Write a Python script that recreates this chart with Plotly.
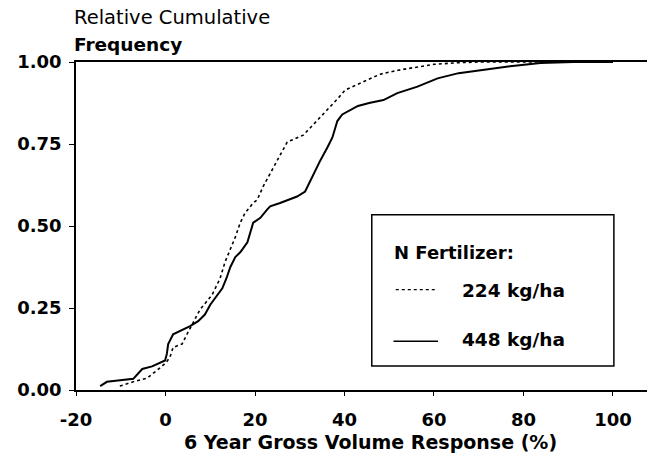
import plotly.graph_objects as go

# 448 kg/ha (solid)
x448 = [-14.6, -13.1, -7.2, -6.2, -5.2, -3.0, -1.2, -0.1, 0.3, 0.6, 1.7, 3.3, 5.5, 7.3,
        8.8, 10.0, 11.5, 12.7, 13.6, 14.5, 15.6, 16.7, 17.5, 18.3, 19.6, 21.2, 22.7, 23.4,
        25.6, 27.5, 29.4, 31.2, 32.8, 34.6, 36.2, 37.3, 38.4, 39.5, 43.0, 45.5, 48.7, 51.8,
        56.3, 60.8, 65.5, 71.0, 77.0, 83.8, 91.2, 100.0]
y448 = [0.012, 0.025, 0.034, 0.05, 0.064, 0.072, 0.082, 0.09, 0.11, 0.14, 0.17, 0.18, 0.195, 0.21,
        0.23, 0.26, 0.29, 0.31, 0.34, 0.375, 0.405, 0.42, 0.435, 0.45, 0.51, 0.525, 0.55, 0.56,
        0.57, 0.58, 0.59, 0.605, 0.65, 0.70, 0.74, 0.77, 0.82, 0.84, 0.866, 0.875, 0.884, 0.905,
        0.925, 0.95, 0.966, 0.976, 0.987, 0.997, 1.0, 1.0]

# 224 kg/ha (dotted)
x224 = [-10.2, -7.2, -4.1, -2.3, -1.0, 0.2, 1.0, 1.7, 3.7, 4.8, 6.0, 7.1, 7.7, 10.4, 12.2,
        13.3, 14.5, 15.6, 16.7, 17.8, 19.6, 20.5, 21.8, 24.1, 26.1, 27.2, 30.8, 33.0, 36.2,
        38.6, 40.2, 45.1, 48.0, 52.0, 56.3, 60.0, 65.5, 70.0, 80.0, 90.0]
y224 = [0.012, 0.025, 0.036, 0.055, 0.07, 0.085, 0.10, 0.13, 0.14, 0.17, 0.20, 0.23, 0.245, 0.29, 0.34,
        0.39, 0.43, 0.466, 0.51, 0.54, 0.57, 0.58, 0.62, 0.68, 0.73, 0.756, 0.777, 0.81, 0.855,
        0.89, 0.915, 0.945, 0.963, 0.975, 0.985, 0.993, 0.998, 1.0, 1.0, 1.0]

x_ticks = [-20, 0, 20, 40, 60, 80, 100]
x_tick_labels = ["-20", "0", "20", "40", "60", "80", "100"]
y_ticks = [0.0, 0.25, 0.5, 0.75, 1.0]
y_tick_labels = ["0.00", "0.25", "0.50", "0.75", "1.00"]
series_names = ["224 kg/ha", "448 kg/ha"]

FONT = "DejaVu Sans"

fig = go.Figure()
fig.add_trace(go.Scatter(x=x224, y=y224, mode="lines", name=series_names[0],
                         line=dict(color="black", width=1.6, dash="dot"), showlegend=False))
fig.add_trace(go.Scatter(x=x448, y=y448, mode="lines", name=series_names[1],
                         line=dict(color="black", width=2), showlegend=False))

fig.update_layout(
    width=647, height=454,
    margin=dict(l=76, r=0, t=62, b=64),
    plot_bgcolor="white", paper_bgcolor="white",
    font=dict(family=FONT, color="black"),
    xaxis=dict(range=[-20, 107.6], tickvals=x_ticks, ticktext=x_tick_labels,
               ticks="outside", ticklen=4, automargin=False,
               tickcolor="black", showline=True, linecolor="black", linewidth=1.5,
               mirror=True, showgrid=False, zeroline=False,
               tickfont=dict(size=18, family=FONT, weight="bold"),
               ticklabelstandoff=9),
    yaxis=dict(range=[0, 1], tickvals=y_ticks, ticktext=y_tick_labels, ticks="outside",
               ticklen=5, tickcolor="black", showline=True, linecolor="black", linewidth=1.5,
               showgrid=False, zeroline=False, automargin=False,
               tickfont=dict(size=18, family=FONT, weight="bold"), ticklabelstandoff=4),
)

# x-axis title
fig.add_annotation(text="<b>6 Year Gross Volume Response (%)</b>", xref="paper", yref="paper",
                   x=(370 - 76) / 571, y=0, yshift=-52, xanchor="center", yanchor="middle",
                   showarrow=False, font=dict(size=19, family=FONT))

# y-axis title (two lines, top-left)
fig.add_annotation(text="Relative Cumulative", xref="paper", yref="paper", x=-0.007, y=1.0,
                   yshift=45, xanchor="left", yanchor="middle", showarrow=False,
                   font=dict(size=19.5, family=FONT))
fig.add_annotation(text="<b>Frequency</b>", xref="paper", yref="paper", x=-0.007, y=1.0,
                   yshift=18, xanchor="left", yanchor="middle", showarrow=False,
                   font=dict(size=18.5, family=FONT))

# legend box
fig.add_shape(type="rect", xref="paper", yref="paper", x0=0.518, x1=0.942, y0=0.073, y1=0.534,
              line=dict(color="black", width=1.5), fillcolor="white", layer="above")
fig.add_annotation(text="<b>N Fertilizer:</b>", xref="paper", yref="paper", x=0.553, y=0.418,
                   xanchor="left", yanchor="middle", showarrow=False, font=dict(size=18, family=FONT))
fig.add_shape(type="line", xref="paper", yref="paper", x0=0.560, x1=0.631, y0=0.306, y1=0.306,
              line=dict(color="black", width=1.2, dash="dot"), layer="above")
fig.add_shape(type="line", xref="paper", yref="paper", x0=0.556, x1=0.634, y0=0.149, y1=0.149,
              line=dict(color="black", width=1.5), layer="above")
fig.add_annotation(text="<b>" + series_names[0] + "</b>", xref="paper", yref="paper", x=0.672, y=0.302,
                   xanchor="left", yanchor="middle", showarrow=False, font=dict(size=18.5, family=FONT))
fig.add_annotation(text="<b>" + series_names[1] + "</b>", xref="paper", yref="paper", x=0.672, y=0.155,
                   xanchor="left", yanchor="middle", showarrow=False, font=dict(size=18.5, family=FONT))

fig.write_html("out.html", config={"displayModeBar": False},
               post_script="document.body.style.margin='0';document.body.style.overflow='hidden';")
